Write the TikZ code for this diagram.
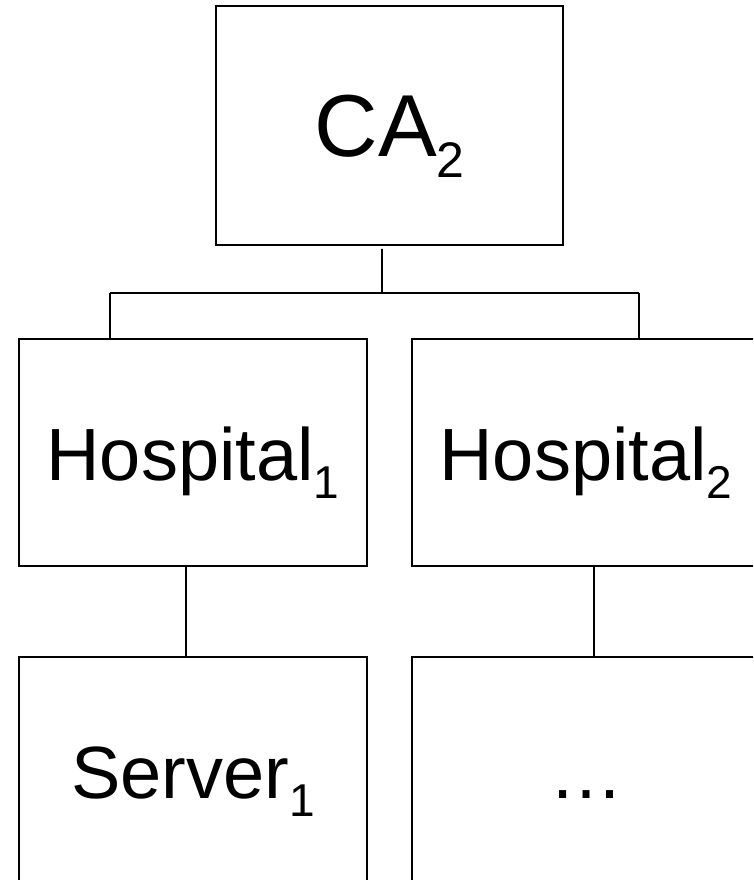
\documentclass[tikz,border=0pt]{standalone}
\usepackage{fontspec}
\setmainfont{Liberation Sans}
\newcommand\lowidx[3]{\raisebox{-#2}{\fontsize{#1}{#1}\selectfont #3}}
\begin{document}
\begin{tikzpicture}[x=0.75pt,y=-0.75pt,
  box/.style={draw, line width=1.4pt, rectangle, inner sep=0pt, outer sep=0pt,
    minimum width=261pt, minimum height=170.25pt,
    text height=41.25pt, text depth=0pt,
    font=\fontsize{55.5pt}{60pt}\selectfont},
  topbox/.style={box, minimum width=260.25pt, minimum height=179.25pt,
    text height=47.25pt, font=\fontsize{66pt}{70pt}\selectfont},
  link/.style={draw, line width=1.4pt}]
  \useasboundingbox (0,0) rectangle (753,880);
  \clip (0,0) rectangle (753,880);

  % certificate hierarchy
  \node[topbox] (ca) at (389.5,125.5) {CA\lowidx{37.5pt}{15.75pt}{2}};
  \node[box] (h1) at (193,452.5) {Hospital\lowidx{34.5pt}{13.5pt}{1}};
  \node[box] (h2) at (586,452.5) {Hospital\lowidx{34.5pt}{13.5pt}{2}};
  \node[box] (s1) at (193,770.5) {Server\lowidx{34.5pt}{13.5pt}{1}};
  \node[box] (dd) at (586,770.5) {…};

  % branching bar under the root
  \coordinate (bar) at (382,293);
  \coordinate (bl) at (110,293);
  \coordinate (br) at (639,293);

  \path[link] ([xshift=-5.6pt,yshift=-3pt]ca.south) -- (bar);
  \path[link] (bl) -- (br);
  \path[link] (bl) -- (bl |- h1.north);
  \path[link] (br) -- (br |- h2.north);
  \path[link] ([xshift=-5.25pt]h1.south) -- ([xshift=-5.25pt]s1.north);
  \path[link] ([xshift=6pt]h2.south) -- ([xshift=6pt]dd.north);
\end{tikzpicture}
\end{document}
